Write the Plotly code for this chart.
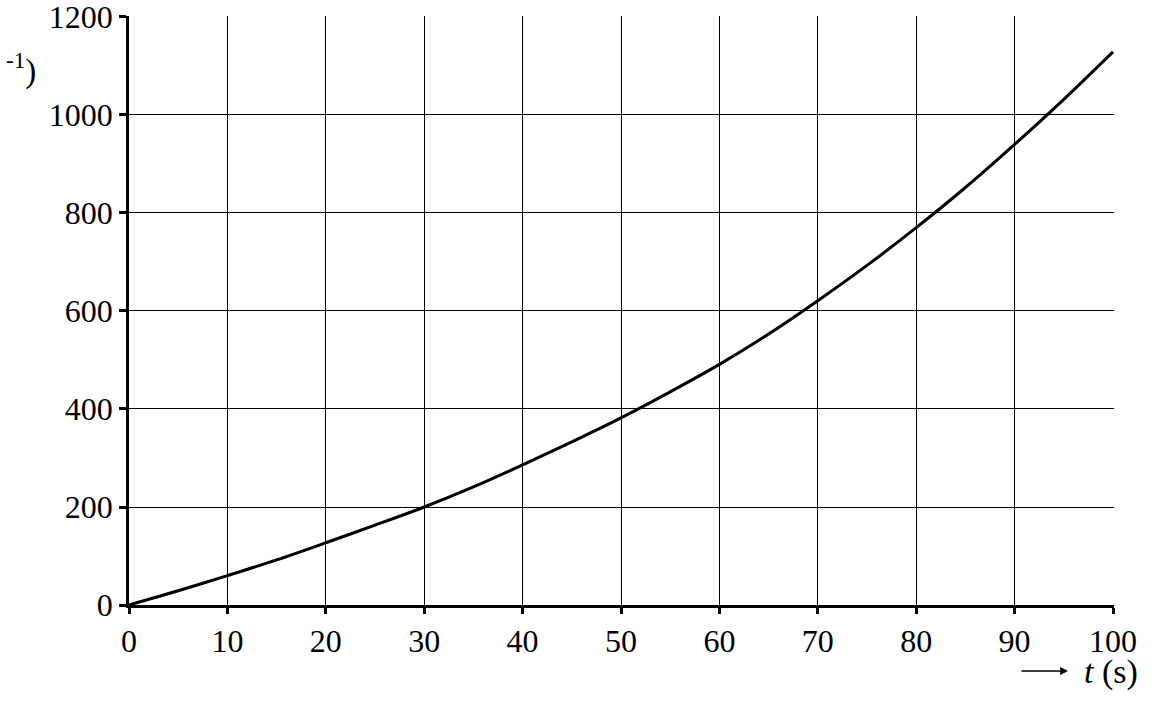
import plotly.graph_objects as go

# curve, every 5 s
t_values = [0, 5, 10, 15, 20, 25, 30, 35, 40, 45, 50,
            55, 60, 65, 70, 75, 80, 85, 90, 95, 100]
y_values = [0, 29, 60, 92, 127, 163, 200, 241, 286, 333, 382,
            435, 491, 553, 621, 693, 770, 852, 940, 1032, 1129]

x_ticks = list(range(0, 101, 10))
y_ticks = list(range(0, 1201, 200))

serif = "Liberation Serif"

fig = go.Figure()

fig.add_trace(go.Scatter(
    x=t_values,
    y=y_values,
    mode='lines',
    line=dict(color='black', width=3, shape='spline', smoothing=0.8),
    showlegend=False,
    hoverinfo='skip'
))

axis_common = dict(
    showgrid=True,
    gridcolor='black',
    gridwidth=1.3,
    zeroline=False,
    showline=True,
    linecolor='black',
    linewidth=2.5,
    ticks='outside',
    tickcolor='black',
    tickwidth=2.5,
    automargin=False,
    ticklabeloverflow='allow',
    tickfont=dict(family=serif, size=32, color='black'),
)

# y range a hair over 1200 so the top grid line is not clipped away
fig.update_layout(
    width=1165,
    height=712,
    margin=dict(l=129, r=51, t=16, b=107),
    paper_bgcolor='white',
    plot_bgcolor='white',
    font=dict(family=serif, color='black'),
    xaxis=dict(range=[0, 100.1], tickvals=x_ticks, ticklen=6, **axis_common),
    yaxis=dict(range=[0, 1202], tickvals=y_ticks, ticklen=7, **axis_common),
)

# y-axis label, cut off at the left edge in the original
fig.add_annotation(
    text="<sup>-1</sup>)",
    xref='paper', yref='paper',
    x=(38 - 129) / 985, y=1 - 53 / 589,
    xanchor='right', yanchor='middle',
    showarrow=False,
    font=dict(family=serif, size=33, color='black')
)

# x-axis label with arrow
fig.add_annotation(
    text="",
    xref='paper', yref='paper',
    x=(1068 - 129) / 985, y=-(671 - 605) / 589,
    ax=-48, ay=0,
    showarrow=True, arrowhead=2, arrowsize=1.2, arrowwidth=1.3,
    arrowcolor='black'
)
fig.add_annotation(
    text="<i>t</i> (s)",
    xref='paper', yref='paper',
    x=(1082 - 129) / 985, y=-(672 - 605) / 589,
    xanchor='left', yanchor='middle',
    showarrow=False,
    font=dict(family=serif, size=34, color='black')
)

# no page margin, so the figure sits at the window's corner
fig.write_html("out.html", config={'displayModeBar': False},
               post_script="document.body.style.margin = '0';")
